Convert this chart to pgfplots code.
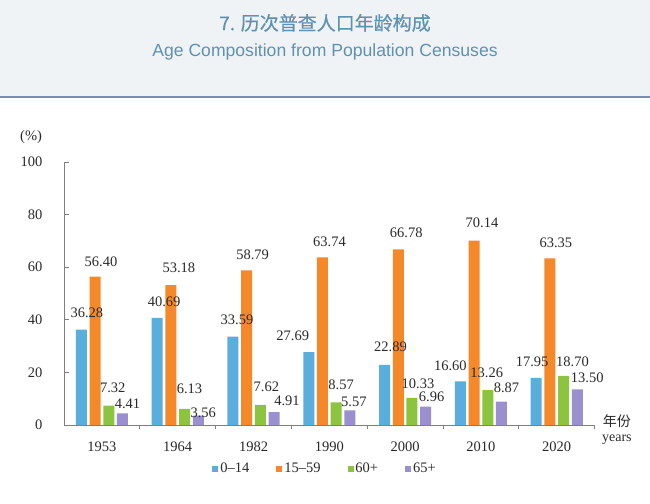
\documentclass[border=0pt]{standalone}
\usepackage{fontspec}
\setmainfont{Liberation Serif}
\newfontfamily\cjk{Noto Sans CJK SC}
\newfontfamily\cjktitle{Noto Sans CJK SC}[FakeBold=0.6]
\newfontfamily\sanslat{Liberation Sans}
\usepackage{pgfplots}
\pgfplotsset{compat=1.18}
\usepackage{pgfplotstable}

\definecolor{cBlue}{HTML}{5AAEDE}
\definecolor{cOrange}{HTML}{F5892A}
\definecolor{cGreen}{HTML}{8CC43F}
\definecolor{cPurple}{HTML}{9A90D0}
\definecolor{hdrbg}{HTML}{EFF3F6}
\definecolor{hdrline}{HTML}{6F93AD}
\definecolor{titlecol}{HTML}{5F91B2}
\definecolor{axcol}{HTML}{808080}
\definecolor{txt}{HTML}{2A2A2A}

\pgfplotstableread{
x y lab dx dy
0 36.28 36.28 5.5 16.6
1 40.69 40.69 7 16
2 33.59 33.59 4 17
3 27.69 27.69 -16 16
4 22.89 22.89 6 18
5 16.60 16.60 -10 16
6 17.95 17.95 -4 16
}\tblA
\pgfplotstableread{
x y lab dx dy
0 56.40 56.40 6 15
1 53.18 53.18 8 17
2 58.79 58.79 6 16
3 63.74 63.74 7 16
4 66.78 66.78 8 17
5 70.14 70.14 8 17.5
6 63.35 63.35 6 16
}\tblB
\pgfplotstableread{
x y lab dx dy
0 7.32 7.32 4 18
1 6.13 6.13 5 20
2 7.62 7.62 6 18
3 8.57 8.57 5 17.5
4 10.33 10.33 6 14
5 13.26 13.26 -1 17
6 18.70 18.70 9 14
}\tblC
\pgfplotstableread{
x y lab dx dy
0 4.41 4.41 5 10
1 3.56 3.56 5 3
2 4.91 4.91 13 11
3 5.57 5.57 4 8.5
4 6.96 6.96 6 10
5 8.87 8.87 5 14
6 13.50 13.50 10 11.5
}\tblD

\begin{document}
\begin{tikzpicture}
\useasboundingbox (0,0) rectangle (650bp,504bp);
\fill[white] (0,0) rectangle (650bp,407bp);
\fill[hdrbg] (0,407bp) rectangle (650bp,504bp);
\draw[hdrline, line width=1.6bp] (0,407bp) -- (650bp,407bp);
\node[text=titlecol, font=\cjktitle\fontsize{19bp}{22bp}\selectfont] at (325bp,481bp) {7. 历次普查人口年龄构成};
\node[text=titlecol, font=\sanslat\fontsize{17.6bp}{20bp}\selectfont] at (325bp,452bp) {Age Composition from Population Censuses};

\begin{axis}[
  at={(64bp,79bp)}, anchor=south west,
  scale only axis,
  width=530.6bp, height=263bp,
  xmin=-0.5, xmax=6.5, ymin=0, ymax=100,
  axis x line*=bottom, axis y line*=left,
  axis line style={-, draw=axcol, line width=0.9bp},
  tick style={draw=axcol, line width=0.9bp},
  tick align=inside,
  major tick length=4.5bp,
  ytick={0,20,40,60,80,100},
  xtick={0.5,1.5,...,6.5},
  xticklabels={},
  extra x ticks={0,1,2,3,4,5,6},
  extra x tick labels={1953,1964,1982,1990,2000,2010,2020},
  extra x tick style={major tick length=0pt, xticklabel style={yshift=-13bp}},
  /pgf/number format/assume math mode=true,
  ticklabel style={font=\fontsize{14.5bp}{16bp}\selectfont, text=txt},
  yticklabel style={xshift=-18bp},
  ybar=2.7bp, bar width=11bp,
  ylabel={(\%)},
  ylabel style={rotate=-90, at={(rel axis cs:-0.062,1.095)}, anchor=center, font=\fontsize{14.5bp}{16bp}\selectfont, text=txt},
  xlabel={{\cjk 年份}\\years},
  xlabel style={at={(rel axis cs:1.042,-0.019)}, anchor=center, align=center, font=\fontsize{14bp}{15bp}\selectfont, text=txt},
  point meta=explicit symbolic,
  nodes near coords,
  every node near coord/.append style={anchor=center, font=\fontsize{14.5bp}{16bp}\selectfont, text=txt},
  legend columns=4,
  legend style={at={(rel axis cs:0.492,-0.167)}, anchor=center, draw=none, fill=none,
    font=\fontsize{14.5bp}{16bp}\selectfont, text=txt,
    /tikz/every even column/.append style={column sep=25bp}},
  legend image code/.code={\path[#1] (0bp,-3bp) rectangle (6bp,3bp);},
]
\addplot[fill=cBlue, draw=none,
  visualization depends on={\thisrow{dx} \as \dx},
  visualization depends on={\thisrow{dy} \as \dy},
  every node near coord/.append style={xshift=\dx bp, yshift=\dy bp}]
  table[x=x, y=y, meta=lab] {\tblA};
\addlegendentry{0–14}
\addplot[fill=cOrange, draw=none,
  visualization depends on={\thisrow{dx} \as \dx},
  visualization depends on={\thisrow{dy} \as \dy},
  every node near coord/.append style={xshift=\dx bp, yshift=\dy bp}]
  table[x=x, y=y, meta=lab] {\tblB};
\addlegendentry{15–59}
\addplot[fill=cGreen, draw=none,
  visualization depends on={\thisrow{dx} \as \dx},
  visualization depends on={\thisrow{dy} \as \dy},
  every node near coord/.append style={xshift=\dx bp, yshift=\dy bp}]
  table[x=x, y=y, meta=lab] {\tblC};
\addlegendentry{60+}
\addplot[fill=cPurple, draw=none,
  visualization depends on={\thisrow{dx} \as \dx},
  visualization depends on={\thisrow{dy} \as \dy},
  every node near coord/.append style={xshift=\dx bp, yshift=\dy bp}]
  table[x=x, y=y, meta=lab] {\tblD};
\addlegendentry{65+}
\end{axis}
\end{tikzpicture}
\end{document}
